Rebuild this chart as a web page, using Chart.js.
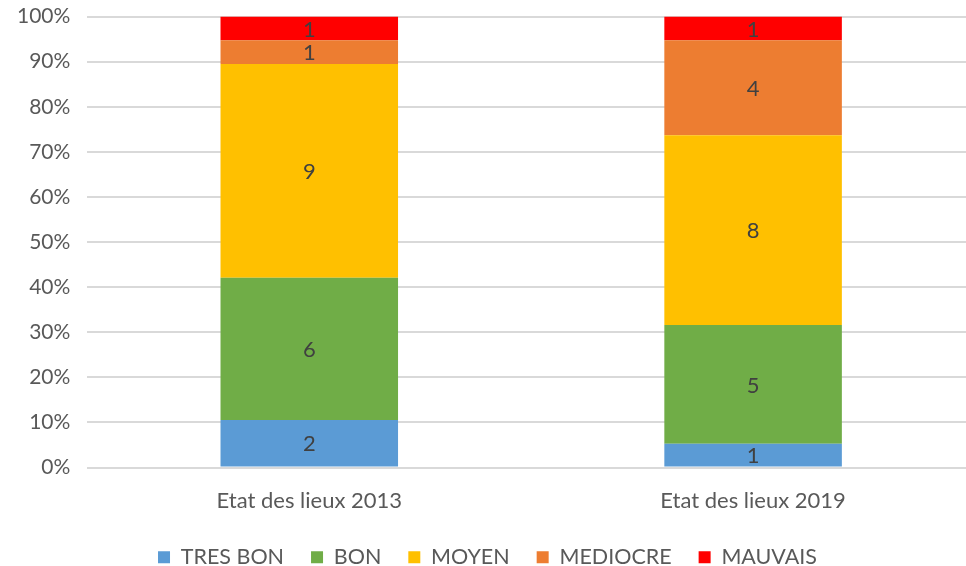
<!DOCTYPE html>
<html>
<head>
<meta charset="utf-8">
<script src="https://cdn.jsdelivr.net/npm/chart.js@4"></script>
<style>
  html, body { margin: 0; padding: 0; background: #fff; }
  #outer { width: 966px; height: 566px; position: relative; overflow: hidden; }
  #wrap { width: 975px; height: 579px; position: absolute; left: 0; top: -13px; }
</style>
</head>
<body>
<div id="outer"><div id="wrap"><canvas id="myChart"></canvas></div></div>
<script>
const categories = ["Etat des lieux 2013", "Etat des lieux 2019"];
const seriesNames = ["TRES BON", "BON", "MOYEN", "MEDIOCRE", "MAUVAIS"];
const tresBon = [2, 1];
const bon = [6, 5];
const moyen = [9, 8];
const mediocre = [1, 4];
const mauvais = [1, 1];
const seriesColors = ["#5B9BD5", "#70AD47", "#FFC000", "#ED7D31", "#FF0000"];

const counts = [tresBon, bon, moyen, mediocre, mauvais];
// totals per category, used to turn counts into 100% stacked shares
const totals = categories.map((c, i) => counts.reduce((s, arr) => s + arr[i], 0));

const FONT = "Lato, 'Open Sans', sans-serif";

// draws the count in the middle of each segment
const valueLabels = {
    id: "valueLabels",
    afterDatasetsDraw(chart) {
        const ctx = chart.ctx;
        ctx.save();
        ctx.font = "22px " + FONT;
        ctx.fillStyle = "#404040";
        ctx.textAlign = "center";
        ctx.textBaseline = "middle";
        chart.data.datasets.forEach((ds, di) => {
            const meta = chart.getDatasetMeta(di);
            meta.data.forEach((bar, i) => {
                const mid = (bar.y + bar.base) / 2;
                ctx.fillText(String(ds.counts[i]), bar.x, mid + 1);
            });
        });
        ctx.restore();
    }
};

const chart = new Chart(document.getElementById("myChart"), {
    type: "bar",
    data: {
        labels: categories,
        datasets: seriesNames.map((name, k) => ({
            label: name,
            counts: counts[k],
            data: counts[k].map((v, i) => v / totals[i] * 100),
            backgroundColor: seriesColors[k],
            borderWidth: 0,
            categoryPercentage: 1,
            barPercentage: 0.4
        }))
    },
    options: {
        responsive: true,
        maintainAspectRatio: false,
        animation: false,
        layout: { padding: { top: 0, right: 0, bottom: -12, left: 0 } },
        plugins: {
            tooltip: { enabled: false },
            legend: {
                position: "bottom",
                labels: {
                    boxWidth: 12,
                    boxHeight: 12,
                    padding: 27,
                    color: "#595959",
                    font: { family: FONT, size: 21.5 }
                }
            }
        },
        scales: {
            x: {
                stacked: true,
                grid: { display: false },
                border: { display: false },
                ticks: { color: "#595959", font: { family: FONT, size: 22 }, padding: 12 },
                afterFit: s => { s.height = 52; }
            },
            y: {
                stacked: true,
                min: 0,
                max: 100,
                ticks: {
                    stepSize: 10,
                    color: "#595959",
                    font: { family: FONT, size: 21 },
                    padding: 17,
                    callback: v => v + "%"
                },
                grid: { color: "#d9d9d9", lineWidth: 2, drawTicks: false },
                border: { display: false }
            }
        }
    },
    plugins: [valueLabels]
});
</script>
</body>
</html>
